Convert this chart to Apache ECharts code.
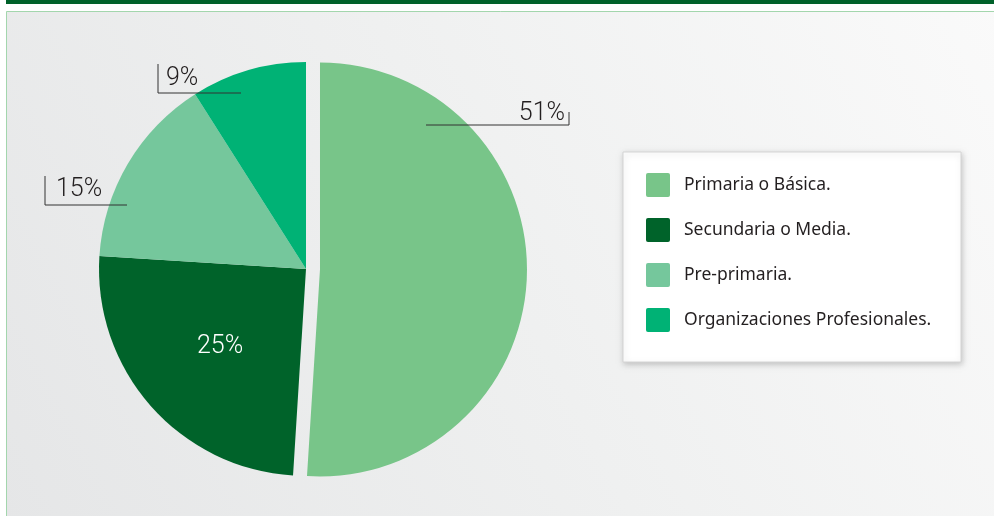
<!DOCTYPE html>
<html>
<head>
<meta charset="utf-8">
<script src="https://cdn.jsdelivr.net/npm/echarts@6/dist/echarts.min.js"></script>
<style>
  html, body { margin: 0; padding: 0; background: #ffffff; }
  #chart { width: 994px; height: 516px; }
</style>
</head>
<body>
<div id="chart"></div>
<script>
// ---- data ----
const categories = ['Primaria o Básica.', 'Secundaria o Media.', 'Pre-primaria.', 'Organizaciones Profesionales.'];
const values = [51, 25, 15, 9];
const sliceColors = ['#78c589', '#00632a', '#75c79c', '#00b275'];

// ---- label placement (styling, not data) ----
const labelPlacement = [
  { x: 565, y: 114, align: 'right', line: [[426, 125], [569, 125], [569, 112]] },
  { x: 220, y: 347, align: 'center', line: null },
  { x: 56, y: 190, align: 'left', line: [[127, 205], [45, 205], [45, 176]] },
  { x: 166, y: 79, align: 'left', line: [[241, 93], [158, 93], [158, 64]] }
];

const chart = echarts.init(document.getElementById('chart'), null, { renderer: 'canvas' });

const pieCenter = [306, 269];
const pieRadius = 207;

const sliceData = categories.map((name, i) => ({
  name: name,
  value: values[i],
  selected: i === 0,
  itemStyle: { color: sliceColors[i] }
}));

const labelData = categories.map((name, i) => ({
  name: name,
  value: values[i],
  itemStyle: { color: 'rgba(0,0,0,0)' },
  label: i === 1 ? { color: '#ffffff' } : {},
  labelLine: { show: i !== 1 }
}));

chart.setOption({
  animation: false,
  graphic: [
    { type: 'rect', z: -10, silent: true, shape: { x: 6, y: 0, width: 990, height: 4 }, style: { fill: '#00612a' } },
    { type: 'rect', z: -10, silent: true, shape: { x: 6.5, y: 11.5, width: 1000, height: 520 },
      style: {
        fill: new echarts.graphic.LinearGradient(0, 1, 1, 0, [
          { offset: 0, color: '#e5e6e7' },
          { offset: 0.5, color: '#eff0f0' },
          { offset: 1, color: '#fafafa' }
        ]),
        stroke: '#a3d6ad', lineWidth: 1
      } },
    { type: 'rect', z: -5, silent: true, shape: { x: 623, y: 152, width: 338, height: 210 },
      style: { fill: '#ffffff', stroke: '#d4d4d4', lineWidth: 1, shadowBlur: 6, shadowColor: 'rgba(0,0,0,0.2)', shadowOffsetX: 1, shadowOffsetY: 2 } }
  ],
  legend: {
    orient: 'vertical',
    left: 646,
    top: 173,
    padding: 0,
    itemWidth: 24,
    itemHeight: 24,
    itemGap: 21,
    itemTextGap: 14,
    icon: 'path://M2,0 H22 Q24,0 24,2 V22 Q24,24 22,24 H2 Q0,24 0,22 V2 Q0,0 2,0 Z',
    selectedMode: false,
    data: categories,
    textStyle: { fontFamily: 'Noto Sans', fontSize: 17.5, color: '#231f20', padding: [0, 0, 0, 9] }
  },
  series: [{
    type: 'pie',
    name: 'slices',
    z: 2,
    center: pieCenter,
    radius: pieRadius,
    startAngle: 90,
    clockwise: true,
    selectedMode: 'single',
    selectedOffset: 14,
    silent: true,
    emphasis: { disabled: true },
    select: { itemStyle: { borderWidth: 0 } },
    label: { show: false },
    labelLine: { show: false },
    data: sliceData
  }, {
    type: 'pie',
    name: 'labels',
    z: 5,
    center: pieCenter,
    radius: pieRadius,
    startAngle: 90,
    clockwise: true,
    silent: true,
    emphasis: { disabled: true },
    label: {
      show: true,
      formatter: '{c}%',
      fontFamily: 'Roboto',
      fontWeight: 300,
      fontSize: 25,
      color: '#231f20'
    },
    labelLine: { show: true, lineStyle: { color: '#333333', width: 1 } },
    labelLayout: function (params) {
      const p = labelPlacement[params.dataIndex];
      const out = { x: p.x, y: p.y, align: p.align, verticalAlign: 'middle' };
      if (p.line) out.labelLinePoints = p.line;
      return out;
    },
    data: labelData
  }]
});
</script>
</body>
</html>
